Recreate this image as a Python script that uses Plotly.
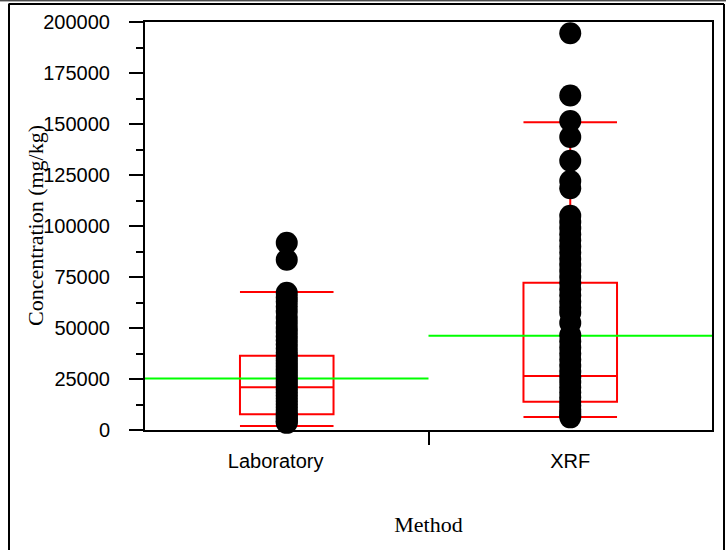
import plotly.graph_objects as go

# ---- data ----
categories = ["Laboratory\u00a0\u00a0\u00a0\u00a0", "XRF"]
cat_pos = [0, 1]

lab_values = [91800, 83500, 67300, 65000, 63000, 60500, 58000, 55000, 52500, 50000,
              48000, 46000, 44000, 42000, 40000, 38000, 36500, 35000, 33500, 32000,
              30500, 29000, 27500, 26000, 24500, 23000, 21500, 20000, 18500, 17000,
              15500, 14000, 12500, 11000, 9500, 8000, 7000, 6000, 5000, 4200, 3500]

xrf_values = [194500, 164000, 151500, 143600, 132000, 122000, 118500, 105000, 102000,
              99000, 96000, 93000, 90000, 87000, 84000, 81000, 78000, 75000, 72000,
              69000, 66000, 63000, 60000, 57500, 52500, 46500, 43500, 40500, 37500,
              34500, 31500, 28500, 26000, 23500, 21000, 18500, 16000, 14000, 12000,
              10000, 8500, 7200, 6200]

# box summary statistics
q1 = [7700, 13900]
median = [20900, 26500]
q3 = [36400, 72200]
lower_fence = [2000, 6400]
upper_fence = [67600, 150800]
means = [25300, 46200]

y_tickvals = [0, 25000, 50000, 75000, 100000, 125000, 150000, 175000, 200000]

fig = go.Figure()

fig.add_trace(go.Box(
    x=cat_pos, q1=q1, median=median, q3=q3,
    lowerfence=lower_fence, upperfence=upper_fence,
    boxpoints=False, width=0.33, whiskerwidth=1,
    line=dict(color="#ff0000", width=2),
    fillcolor="rgba(0,0,0,0)", showlegend=False, hoverinfo="skip"))

for pos, m in zip(cat_pos, means):
    fig.add_trace(go.Scatter(
        x=[pos - 0.5, pos + 0.5], y=[m, m], mode="lines",
        line=dict(color="#00ff00", width=2), showlegend=False, hoverinfo="skip"))

for pos, vals in zip(cat_pos, [lab_values, xrf_values]):
    fig.add_trace(go.Scatter(
        x=[pos] * len(vals), y=vals, mode="markers",
        marker=dict(color="black", size=22, line=dict(width=0)),
        cliponaxis=False, showlegend=False))

tick_font = dict(family="Liberation Sans, Arial", size=20, color="black")
title_font = dict(family="Liberation Serif, Times New Roman", size=22, color="black")

fig.update_layout(
    width=726, height=550,
    margin=dict(l=145, r=14, t=22, b=120),
    paper_bgcolor="white", plot_bgcolor="white",
    xaxis=dict(
        range=[-0.5, 1.5], tickmode="array", tickvals=cat_pos, ticktext=categories,
        ticks="outside", ticklen=12, tickcolor="rgba(0,0,0,0)",
        minor=dict(tickmode="array", tickvals=[0.5], ticks="outside",
                   ticklen=13, tickwidth=2, tickcolor="black"),
        showline=True, linecolor="black", linewidth=2, mirror=True,
        showgrid=False, zeroline=False, tickfont=tick_font,
        title=dict(text="Method", font=title_font, standoff=46)),
    yaxis=dict(
        range=[0, 200000], tickmode="array", tickvals=y_tickvals, tickformat="d",
        ticks="outside", ticklen=14, tickwidth=2, tickcolor="black",
        minor=dict(dtick=12500, tick0=0, ticks="outside", ticklen=7,
                   tickwidth=2, tickcolor="black"),
        showline=True, linecolor="black", linewidth=2, mirror=True,
        showgrid=False, zeroline=False, tickfont=tick_font,
        ticklabelstandoff=15),
)

W, H = 567.0, 408.0
def px(x):
    return (x - 145) / W
def py(y):
    return (430 - y) / H

# y-axis title as rotated text
fig.add_annotation(text="Concentration (mg/kg)", xref="paper", yref="paper",
                   x=px(35), y=0.5, xanchor="center", yanchor="middle",
                   textangle=-90, showarrow=False, font=title_font)

# outer figure frame (decoration)
frame = [
    (px(0), py(0.8), px(726), py(0.8), 1),
    (px(8.5), py(4), px(724), py(4), 2),
    (px(9), py(4), px(9), py(550), 2),
    (px(724), py(4), px(724), py(550), 2),
]
for x0, y0, x1, y1, w in frame:
    fig.add_shape(type="line", xref="paper", yref="paper", x0=x0, y0=y0, x1=x1, y1=y1,
                  line=dict(color="black", width=w))

fig.write_html("out.html", config={"displayModeBar": False},
               post_script="document.body.style.margin='0';document.body.style.overflow='hidden';")
